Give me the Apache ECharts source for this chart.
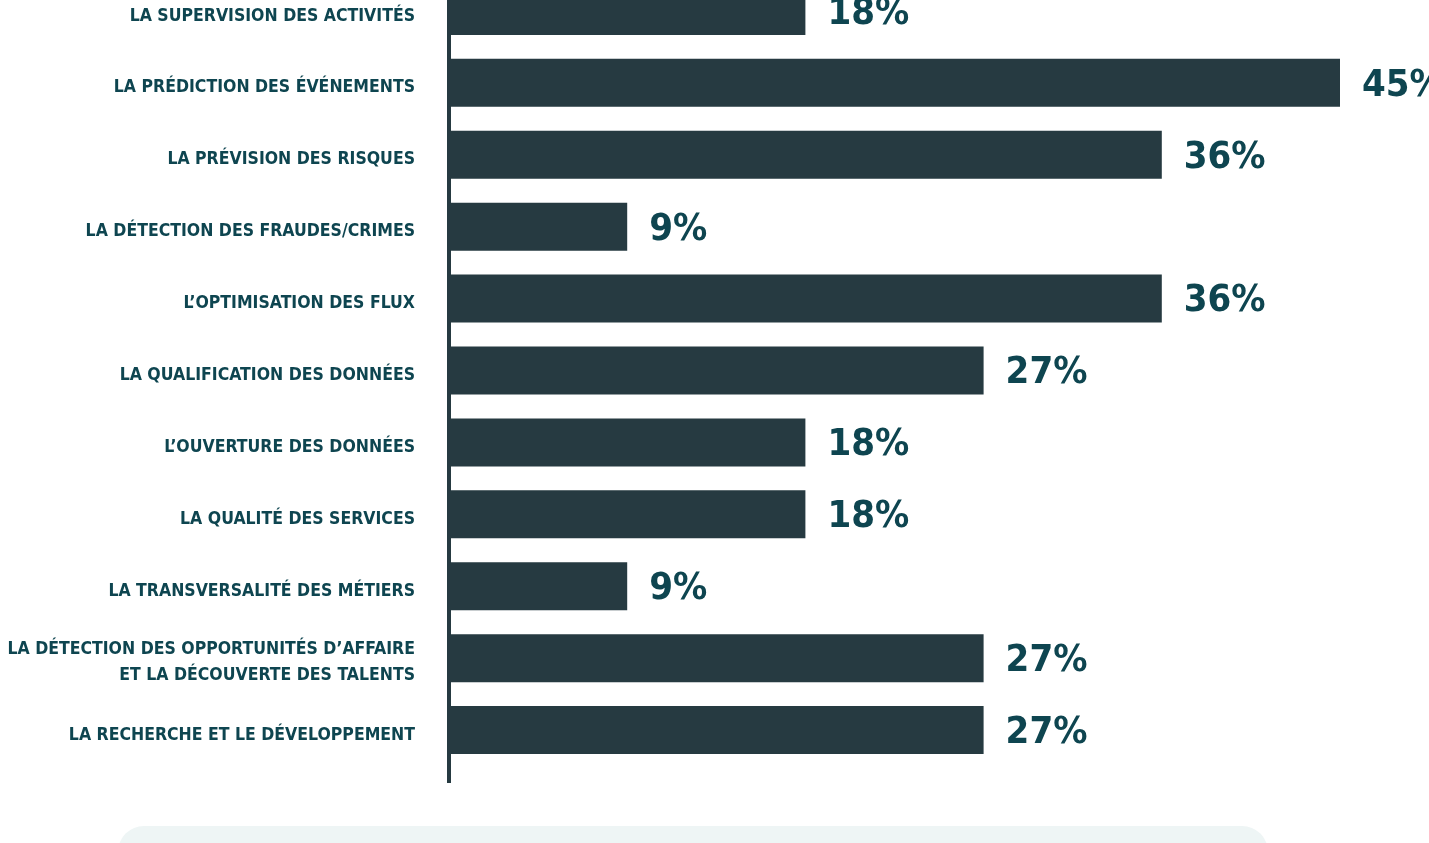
<!DOCTYPE html>
<html>
<head>
<meta charset="utf-8">
<script src="https://cdn.jsdelivr.net/npm/echarts@6/dist/echarts.min.js"></script>
<style>
html,body{margin:0;padding:0;background:#fff;}
#c{width:1429px;height:843px;}
</style>
</head>
<body>
<div id="c"></div>
<script>
var categories = [
  "LA SUPERVISION DES ACTIVITÉS",
  "LA PRÉDICTION DES ÉVÉNEMENTS",
  "LA PRÉVISION DES RISQUES",
  "LA DÉTECTION DES FRAUDES/CRIMES",
  "L’OPTIMISATION DES FLUX",
  "LA QUALIFICATION DES DONNÉES",
  "L’OUVERTURE DES DONNÉES",
  "LA QUALITÉ DES SERVICES",
  "LA TRANSVERSALITÉ DES MÉTIERS",
  "LA DÉTECTION DES OPPORTUNITÉS D’AFFAIRE\nET LA DÉCOUVERTE DES TALENTS",
  "LA RECHERCHE ET LE DÉVELOPPEMENT"
];
var values = [18, 45, 36, 9, 36, 27, 18, 18, 9, 27, 27];

var FONT = "'Liberation Sans Narrow','DejaVu Sans Condensed',sans-serif";
var chart = echarts.init(document.getElementById('c'));
chart.setOption({
  animation: false,
  backgroundColor: '#ffffff',
  grid: {left: 449, top: -25, width: 990, height: 791, containLabel: false, outerBoundsMode: 'none'},
  xAxis: {
    type: 'value', min: 0, max: 50,
    show: false
  },
  yAxis: {
    type: 'category',
    inverse: true,
    data: categories,
    axisLine: {show: false},
    axisTick: {show: false},
    axisLabel: {
      margin: 34,
      align: 'right',
      formatter: function (v) {
        var lines = v.split('\n');
        return lines.map(function (l, i) {
          return (i === 0 ? '{f|' : '{n|') + l + '}';
        }).join('\n');
      },
      rich: {
        f: {color: '#0e4550', fontFamily: FONT, fontWeight: 'bold', fontSize: 17.5, lineHeight: 27, padding: [10, 0, 0, 0], align: 'right'},
        n: {color: '#0e4550', fontFamily: FONT, fontWeight: 'bold', fontSize: 17.5, lineHeight: 27, padding: [7, 0, 0, 0], align: 'right'}
      }
    }
  },
  series: [{
    type: 'bar',
    data: values,
    barWidth: 48,
    itemStyle: {color: '#263a41'},
    label: {
      show: true,
      position: 'right',
      distance: 22,
      offset: [0, 3],
      formatter: '{c}%',
      color: '#0e4550',
      fontFamily: FONT,
      fontWeight: 'bold',
      fontSize: 38
    }
  }],
  graphic: [
    {type: 'line', shape: {x1: 449, y1: -5, x2: 449, y2: 783}, style: {stroke: '#263a41', lineWidth: 4}},
    {type: 'rect', shape: {x: 118, y: 826, width: 1150, height: 60, r: 26}, style: {fill: '#eef5f5'}}
  ]
});
</script>
</body>
</html>
